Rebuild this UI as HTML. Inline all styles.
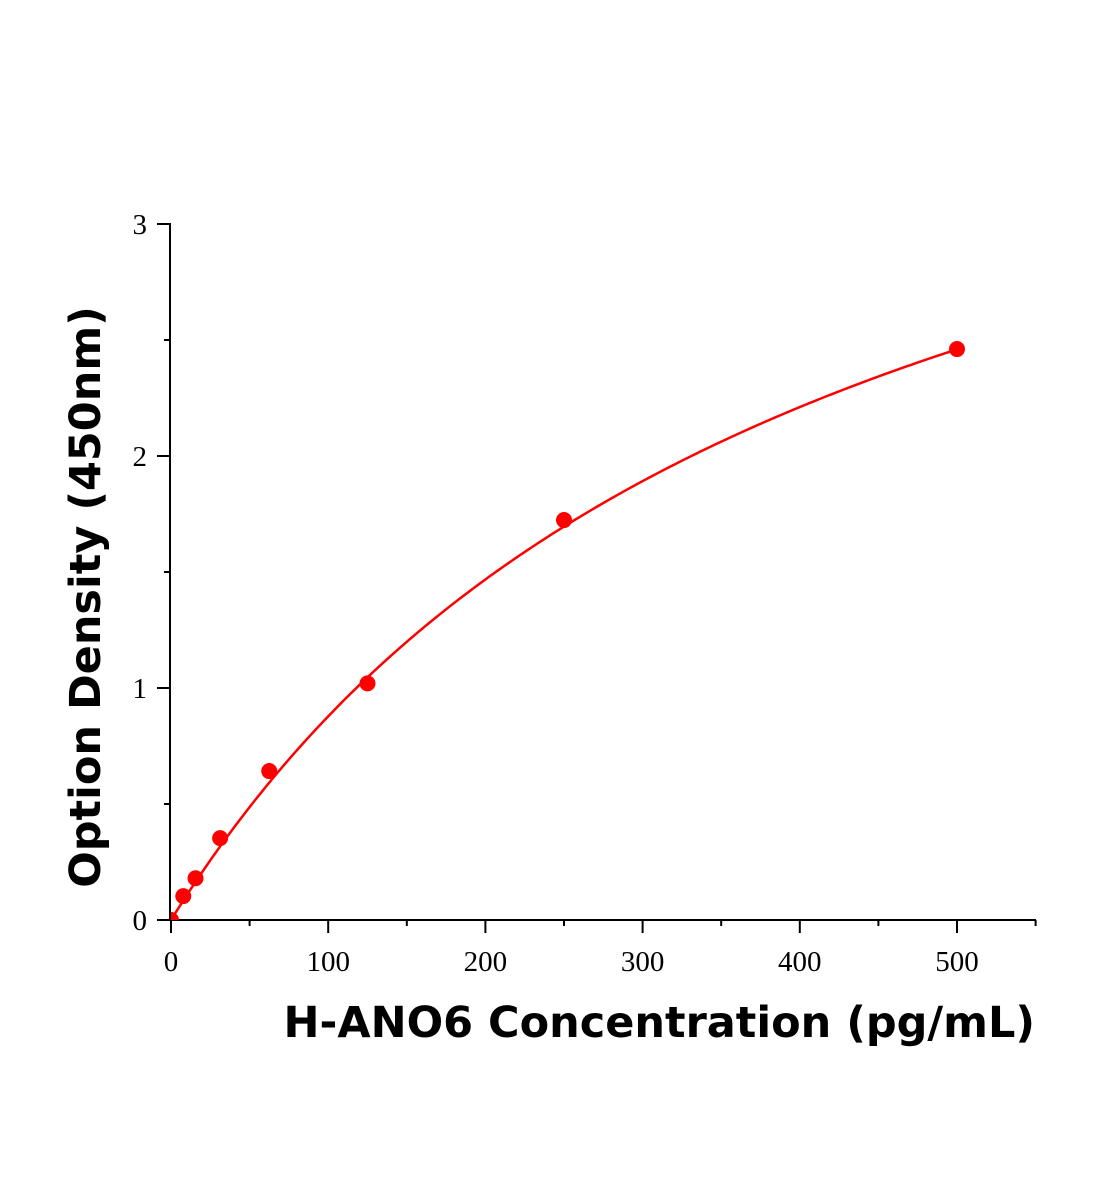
<!DOCTYPE html>
<html><head><meta charset="utf-8"><style>
body{margin:0;background:#fff;}
svg{display:block;}
</style></head><body>
<svg id="chart" width="1104" height="1200" xmlns="http://www.w3.org/2000/svg">
<defs><clipPath id="clip"><rect x="171" y="150" width="870" height="770"/></clipPath></defs>
<g id="axes"></g>
<g id="plot" clip-path="url(#clip)"></g>
<text x="1035" y="1037" text-anchor="end" font-family="'DejaVu Sans','Liberation Sans',sans-serif" font-weight="bold" font-size="43">H-ANO6 Concentration (pg/mL)</text>
<text transform="translate(100,597) rotate(-90)" text-anchor="middle" font-family="'DejaVu Sans','Liberation Sans',sans-serif" font-weight="bold" font-size="43">Option Density (450nm)</text>
</svg>
<script>
const xValues = [0, 7.8, 15.6, 31.25, 62.5, 125, 250, 500];
const yValues = [0, 0.103, 0.18, 0.353, 0.642, 1.02, 1.724, 2.461];
const xTicks = [0, 100, 200, 300, 400, 500];
const yTicks = [0, 1, 2, 3];
const fitParams = [4.477, 410];
const NS = 'http://www.w3.org/2000/svg';
const X0 = 171, XPX = 786/500, Y0 = 920, YPX = 232;
const sx = v => X0 + v * XPX;
const sy = v => Y0 - v * YPX;
const axes = document.getElementById('axes');
const plot = document.getElementById('plot');
function mk(tag, attrs, parent){const e=document.createElementNS(NS,tag);for(const k in attrs)e.setAttribute(k,attrs[k]);parent.appendChild(e);return e;}
let l = mk('line',{x1:170,y1:920,x2:1036,y2:920,stroke:'#000','stroke-width':2},axes);


l = mk('line',{x1:170,y1:921,x2:170,y2:223,stroke:'#000','stroke-width':2},axes);


for (let v = 0; v <= 550; v += 50) {
  const major = v % 100 === 0;
  const t = mk('line',{x1:sx(v),y1:920,x2:sx(v),y2:major?933:926,stroke:'#000','stroke-width':2},axes);
  
  
}
xTicks.forEach(v => {
  const t = mk('text',{x:sx(v),y:971,'text-anchor':'middle','font-family':"'Liberation Serif',serif",'font-size':29},axes);
  t.textContent = v;
  
  
});
for (let v = 0; v <= 3; v += 0.5) {
  const major = Number.isInteger(v);
  const t = mk('line',{x1:major?157:164,y1:sy(v),x2:170,y2:sy(v),stroke:'#000','stroke-width':2},axes);
  
  
}
yTicks.forEach(v => {
  const t = mk('text',{x:147,y:sy(v)+10,'text-anchor':'end','font-family':"'Liberation Serif',serif",'font-size':29},axes);
  t.textContent = v;
  
  
});
let d = '';
for (let x = 0; x <= 500; x += 2) {
  const y = fitParams[0] * x / (fitParams[1] + x);
  d += (x === 0 ? 'M' : 'L') + sx(x).toFixed(2) + ',' + sy(y).toFixed(2);
}
const c = mk('path',{d:d,fill:'none',stroke:'#ff0000','stroke-width':2.5},plot);


xValues.forEach((x, i) => {
  const p = mk('circle',{cx:sx(x),cy:sy(yValues[i]),r:8,fill:'#ff0000'},plot);
  
  
});
</script>
</body></html>
